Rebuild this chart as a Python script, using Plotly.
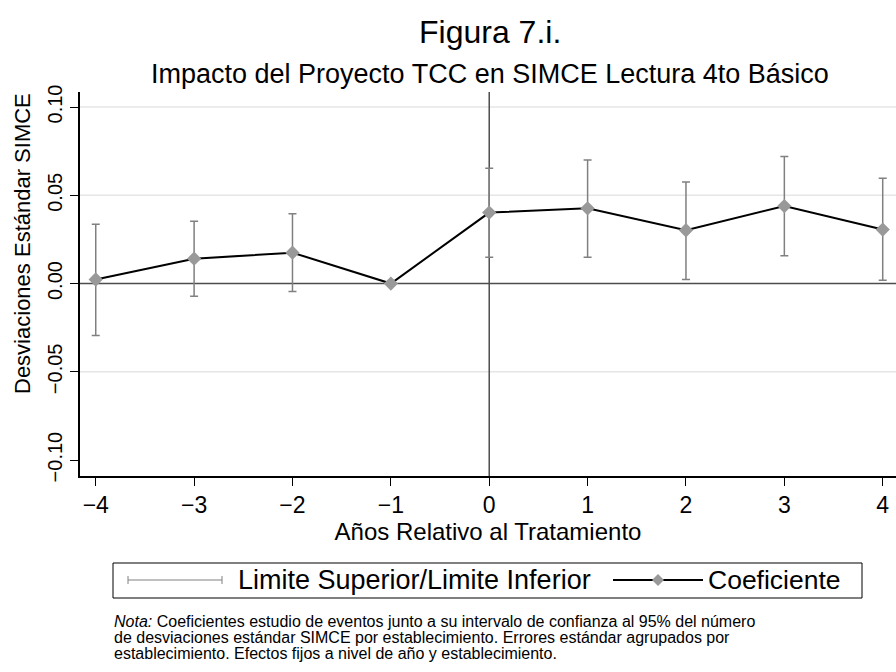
import plotly.graph_objects as go

years = [-4, -3, -2, -1, 0, 1, 2, 3, 4]
coef = [0.0023, 0.0141, 0.0175, 0.0, 0.0402, 0.0426, 0.0302, 0.0439, 0.0306]
upper = [0.0336, 0.0353, 0.0396, 0.0, 0.0653, 0.0700, 0.0575, 0.0720, 0.0596]
lower = [-0.0294, -0.0072, -0.0045, 0.0, 0.0149, 0.0149, 0.0023, 0.0158, 0.0019]
yticks = [-0.10, -0.05, 0.0, 0.05, 0.10]
grid_vals = [-0.05, 0.05, 0.10]
note_lines = [
    "<i>Nota:</i> Coeficientes estudio de eventos junto a su intervalo de confianza al 95% del número",
    "de desviaciones estándar SIMCE por establecimiento. Errores estándar agrupados por",
    "establecimiento. Efectos fijos a nivel de año y establecimiento.",
]

FONT = "Liberation Sans, Arial, sans-serif"
ci_years = [x for x, u, l in zip(years, upper, lower) if u != l]
ci_up = [u for u, l in zip(upper, lower) if u != l]
ci_lo = [l for u, l in zip(upper, lower) if u != l]
ci_mid = [(u + l) / 2 for u, l in zip(ci_up, ci_lo)]

fig = go.Figure()
fig.add_trace(go.Scatter(
    x=ci_years, y=ci_mid,
    mode="markers", marker=dict(size=0.1, color="rgba(0,0,0,0)"),
    error_y=dict(type="data", symmetric=False,
                 array=[u - m for u, m in zip(ci_up, ci_mid)],
                 arrayminus=[m - l for l, m in zip(ci_lo, ci_mid)],
                 color="#808080", thickness=1.5, width=4),
    showlegend=False, hoverinfo="skip"))
fig.add_trace(go.Scatter(
    x=years, y=coef, mode="lines+markers",
    line=dict(color="black", width=2),
    marker=dict(symbol="diamond", size=11, color="#999999"),
    showlegend=False))

shapes = []
for g in grid_vals:
    shapes.append(dict(type="line", xref="paper", x0=0, x1=1, yref="y", y0=g, y1=g,
                       line=dict(color="#e6e6e6", width=1.5), layer="below"))
shapes.append(dict(type="line", xref="paper", x0=0, x1=1, yref="y", y0=0, y1=0,
                   line=dict(color="#4d4d4d", width=1.5), layer="below"))
shapes.append(dict(type="line", xref="x", x0=0, x1=0, yref="paper", y0=0, y1=1,
                   line=dict(color="#4d4d4d", width=1.5), layer="below"))

W, H = 896, 672
ml, mr, mt, mb = 80, 0, 92, 196
pw, ph = W - ml - mr, H - mt - mb
def px(x): return (x - ml) / pw
def py(y): return (H - mb - y) / ph

shapes.append(dict(type="rect", xref="paper", yref="paper",
                   x0=px(113), x1=px(862), y0=py(598), y1=py(563),
                   line=dict(color="black", width=1)))
shapes.append(dict(type="line", xref="paper", yref="paper", x0=px(128), x1=px(222),
                   y0=py(580), y1=py(580), line=dict(color="#808080", width=1)))
for xx in (128, 222):
    shapes.append(dict(type="line", xref="paper", yref="paper", x0=px(xx), x1=px(xx),
                       y0=py(576), y1=py(584), line=dict(color="#808080", width=1)))
shapes.append(dict(type="line", xref="paper", yref="paper", x0=px(613), x1=px(703),
                   y0=py(580), y1=py(580), line=dict(color="black", width=2)))
shapes.append(dict(type="path", xref="paper", yref="paper",
                   path="M {a},{b} L {c},{d} L {a},{e} L {f},{d} Z".format(
                       a=px(658), b=py(574), c=px(664), d=py(580), e=py(586), f=px(652)),
                   fillcolor="#999999", line=dict(width=0)))

def ann(text, x, y, size, xanchor="center", angle=0):
    return dict(text=text, xref="paper", yref="paper", x=px(x), y=py(y),
                xanchor=xanchor, yanchor="middle", showarrow=False, align="left",
                textangle=angle, font=dict(size=size, color="black", family=FONT))

annotations = [
    ann("Figura 7.i.", 490, 32, 32),
    ann("Impacto del Proyecto TCC en SIMCE Lectura 4to Básico", 490, 74, 27),
    ann("Limite Superior/Limite Inferior", 236, 580, 27, "left"),
    ann("Coeficiente", 706, 580, 26.5, "left"),
    ann("Desviaciones Estándar SIMCE", 22, 244, 22, "center", -90),
]
for i, line in enumerate(note_lines):
    annotations.append(ann(line, 112, 621 + 16 * i, 16, "left"))

fig.update_layout(
    width=W, height=H, margin=dict(l=ml, r=mr, t=mt, b=mb),
    paper_bgcolor="white", plot_bgcolor="white",
    font=dict(family=FONT, color="black"),
    shapes=shapes, annotations=annotations, showlegend=False,
    xaxis=dict(range=[-4.16, 4.135], tickvals=years,
               ticktext=[str(v).replace("-", "\u2212") for v in years],
               showgrid=False, zeroline=False, showline=True, linecolor="black", linewidth=1.5,
               ticks="outside", ticklen=8, tickcolor="black", tickwidth=1,
               tickfont=dict(size=23, family=FONT),
               title=dict(text="Años Relativo al Tratamiento", font=dict(size=24, family=FONT), standoff=2)),
    yaxis=dict(range=[-0.109, 0.1085], tickvals=yticks, tickformat=".2f",
               showgrid=False, zeroline=False, showline=True, linecolor="black", linewidth=1.5,
               ticks="outside", ticklen=8, tickcolor="black", tickwidth=1, tickangle=-90,
               tickfont=dict(size=20, family=FONT)),
)

fig.write_html("out.html")
